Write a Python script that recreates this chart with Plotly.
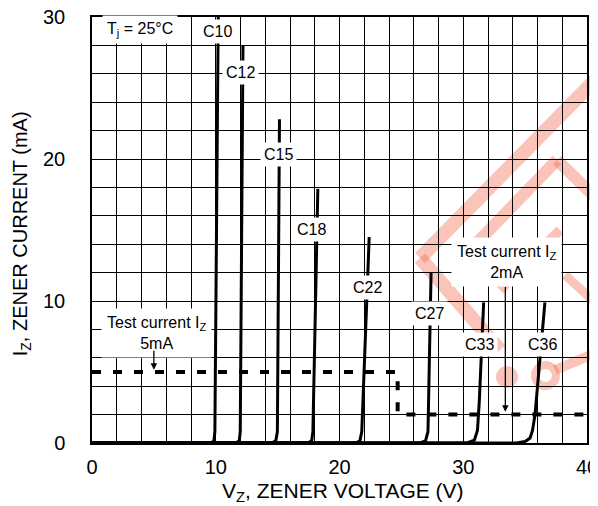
import plotly.graph_objects as go

# ---- data ----
c10_v = [0, 9.6, 9.85, 9.93, 10.2]
c10_i = [0, 0, 0.15, 0.8, 30]
c12_v = [0, 11.6, 11.9, 11.98, 12.2]
c12_i = [0, 0, 0.15, 0.8, 28]
c15_v = [0, 14.5, 14.85, 14.98, 15.15]
c15_i = [0, 0, 0.15, 0.8, 22.8]
c18_v = [0, 17.4, 17.75, 17.85, 18.25]
c18_i = [0, 0, 0.15, 0.8, 17.9]
c22_v = [0, 21.3, 21.65, 21.8, 22.4]
c22_i = [0, 0, 0.15, 0.8, 14.5]
c27_v = [0, 26.5, 26.95, 27.15, 27.4]
c27_i = [0, 0, 0.15, 0.8, 12.0]
c33_v = [0, 30.3, 30.9, 31.15, 31.3, 31.65]
c33_i = [0, 0, 0.2, 0.9, 3.0, 9.9]
c36_v = [0, 34.3, 35.0, 35.4, 35.6, 35.8, 36.6]
c36_i = [0, 0, 0.1, 0.35, 0.9, 2.0, 9.9]

curve_names = ["C10", "C12", "C15", "C18", "C22", "C27", "C33", "C36"]
curves_v = [c10_v, c12_v, c15_v, c18_v, c22_v, c27_v, c33_v, c36_v]
curves_i = [c10_i, c12_i, c15_i, c18_i, c22_i, c27_i, c33_i, c36_i]

# test-current line: 5 mA up to the switch voltage, then 2 mA
test_v = [0, 24.7, 24.7, 40]
test_i = [5, 5, 2, 2]

x_ticks = [0, 10, 20, 30, 40]
y_ticks = [0, 10, 20, 30]

fig = go.Figure()

for name, v, i in zip(curve_names, curves_v, curves_i):
    fig.add_trace(go.Scatter(x=v, y=i, mode="lines", name=name,
                             line=dict(color="black", width=3)))

fig.add_trace(go.Scatter(x=test_v, y=test_i, mode="lines", name="test",
                         line=dict(color="black", width=4, dash="9px,12px")))

# ---- curve labels ----
label_pos = {
    "C10": (10.18, 29.0), "C12": (12.04, 26.1), "C15": (15.1, 20.3),
    "C18": (17.7, 15.07), "C22": (22.3, 10.93), "C27": (27.3, 9.11),
    "C33": (31.35, 6.94), "C36": (36.44, 6.94),
}
annotations = []
for name, (lx, ly) in label_pos.items():
    annotations.append(dict(x=lx, y=ly, xref="x", yref="y", text=name,
                            showarrow=False, bgcolor="white", borderpad=3,
                            font=dict(size=16, color="black")))

annotations.append(dict(x=3.9, y=29.1, xref="x", yref="y",
                        text="T<sub>j</sub> = 25°C", showarrow=False,
                        bgcolor="white", borderpad=4,
                        font=dict(size=16, color="black")))

annotations.append(dict(x=5.25, y=7.75, xref="x", yref="y",
                        text="Test current I<sub>Z</sub><br>5mA", showarrow=False,
                        bgcolor="white", borderpad=5,
                        font=dict(size=16, color="black")))
annotations.append(dict(x=33.5, y=12.75, xref="x", yref="y",
                        text="Test current I<sub>Z</sub><br>2mA", showarrow=False,
                        bgcolor="white", borderpad=5,
                        font=dict(size=16, color="black")))

# arrows
annotations.append(dict(x=5.0, y=5.15, ax=5.0, ay=6.6, xref="x", yref="y",
                        axref="x", ayref="y", text="", showarrow=True,
                        arrowhead=2, arrowsize=1, arrowwidth=1.3, arrowcolor="black"))
annotations.append(dict(x=33.4, y=2.2, ax=33.4, ay=11.1, xref="x", yref="y",
                        axref="x", ayref="y", text="", showarrow=True,
                        arrowhead=2, arrowsize=1, arrowwidth=1.3, arrowcolor="black"))

# axis titles
annotations.append(dict(x=0.507, y=-0.115, xref="paper", yref="paper",
                        text="V<sub>Z</sub>, ZENER VOLTAGE (V)", showarrow=False,
                        xanchor="center", yanchor="middle",
                        font=dict(size=21, color="black")))
annotations.append(dict(x=-0.1434, y=0.49, xref="paper", yref="paper",
                        text="I<sub>Z</sub>, ZENER CURRENT (mA)", showarrow=False,
                        textangle=-90, xanchor="center", yanchor="middle",
                        font=dict(size=20, color="black")))

# ---- watermark (decorative) ----
def px(xp):
    return (xp - 92) / 495.0

def py(yp):
    return (443 - yp) / 426.0

wm = "rgba(245,100,70,0.38)"
shapes = []
def wline(x0, y0, x1, y1, w):
    shapes.append(dict(type="line", xref="paper", yref="paper",
                       x0=px(x0), y0=py(y0), x1=px(x1), y1=py(y1),
                       line=dict(color=wm, width=w), layer="below"))

wline(420, 258, 600, 75, 14)
wline(420, 258, 500, 350, 14)
wline(470, 250, 557, 160, 12)
wline(557, 160, 598, 200, 12)
wline(500, 290, 560, 230, 10)
wline(565, 275, 598, 305, 9)
wline(555, 370, 598, 352, 10)
shapes.append(dict(type="circle", xref="paper", yref="paper",
                   x0=px(496), y0=py(388), x1=px(518), y1=py(366),
                   fillcolor=wm, line=dict(width=0), layer="below"))
shapes.append(dict(type="circle", xref="paper", yref="paper",
                   x0=px(535), y0=py(386), x1=px(556), y1=py(365),
                   fillcolor="rgba(0,0,0,0)", line=dict(color=wm, width=8),
                   layer="below"))

axis_common = dict(showgrid=True, gridcolor="black", gridwidth=1.3,
                   showline=True, linecolor="black", linewidth=1.5, mirror=True,
                   zeroline=False, ticks="", automargin=False,
                   ticklabeloverflow="allow",
                   tickfont=dict(size=20, color="black"),
                   minor=dict(dtick=2, showgrid=True, gridcolor="black", gridwidth=1.3))

fig.update_layout(
    width=598, height=506,
    margin=dict(l=84, r=19, t=9, b=71),
    plot_bgcolor="white", paper_bgcolor="white",
    showlegend=False,
    font=dict(family="Liberation Sans, Arial, sans-serif", color="black"),
    xaxis=dict(range=[0, 40], tickvals=x_ticks, ticklabelstandoff=5, **axis_common),
    yaxis=dict(range=[0, 30], tickvals=y_ticks, ticklabelstandoff=21, **axis_common),
    annotations=annotations,
    shapes=shapes,
)

fig.write_html("out.html")
